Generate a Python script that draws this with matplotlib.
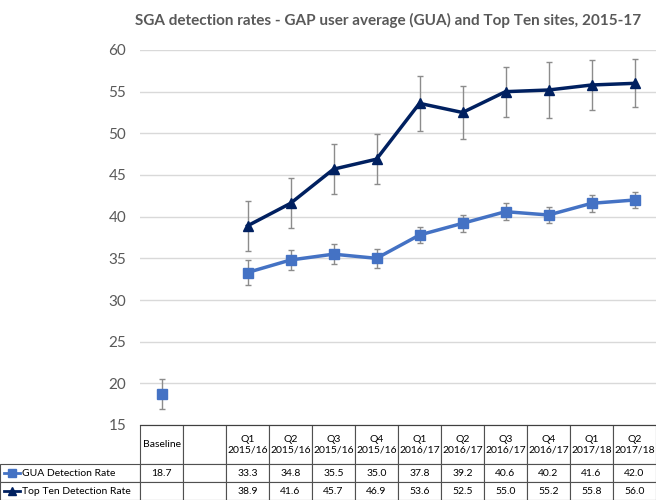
import numpy as np
import matplotlib
matplotlib.use('Agg')
import matplotlib.pyplot as plt
from matplotlib.lines import Line2D

plt.rcParams['font.family'] = ['Lato', 'DejaVu Sans']

# 数据
categories = ['Baseline', '', 'Q1\n2015/16', 'Q2\n2015/16', 'Q3\n2015/16', 'Q4\n2015/16',
              'Q1\n2016/17', 'Q2\n2016/17', 'Q3\n2016/17', 'Q4\n2016/17',
              'Q1\n2017/18', 'Q2\n2017/18']
gua = [18.7, np.nan, 33.3, 34.8, 35.5, 35.0, 37.8, 39.2, 40.6, 40.2, 41.6, 42.0]
gua_err = [1.8, np.nan, 1.5, 1.2, 1.2, 1.1, 1.0, 1.0, 1.0, 1.0, 1.0, 1.0]
top_ten = [np.nan, np.nan, 38.9, 41.6, 45.7, 46.9, 53.6, 52.5, 55.0, 55.2, 55.8, 56.0]
top_err = [np.nan, np.nan, 3.0, 3.0, 3.0, 3.0, 3.3, 3.2, 3.0, 3.4, 3.0, 2.9]
series_names = ['GUA Detection Rate', 'Top Ten Detection Rate']
title = 'SGA detection rates - GAP user average (GUA) and Top Ten sites, 2015-17'

GUA_COLOR = '#4472C4'
TOP_COLOR = '#002060'
TEXT_COLOR = '#595959'

W, H = 656, 500
fig = plt.figure(figsize=(W / 100, H / 100), dpi=100)
ax = fig.add_axes([140 / W, 75 / H, 516 / W, 375 / H])

x = np.arange(len(categories))

# 误差线
ax.errorbar(x, gua, yerr=gua_err, fmt='none', ecolor='#8c8c8c', elinewidth=1,
            capsize=2, capthick=1, zorder=2)
ax.errorbar(x, top_ten, yerr=top_err, fmt='none', ecolor='#8c8c8c', elinewidth=1,
            capsize=2, capthick=1, zorder=2)

# 折线
ax.plot(x, gua, color=GUA_COLOR, lw=2.5, marker='s', ms=7, zorder=3)
ax.plot(x, top_ten, color=TOP_COLOR, lw=2.5, marker='^', ms=7, zorder=3)

ax.set_xlim(-0.5, len(categories) - 0.5)
ax.set_ylim(15, 60)
ax.set_yticks(range(15, 61, 5))
ax.tick_params(axis='y', length=0, pad=10, labelsize=11, labelcolor=TEXT_COLOR)
ax.set_xticks([])
ax.grid(axis='y', color='#d9d9d9', lw=1)
ax.set_axisbelow(True)
for s in ['top', 'right', 'left']:
    ax.spines[s].set_visible(False)
ax.spines['bottom'].set_color('#404040')

# 数据表（第一列为系列名称）
def fmt(v):
    return '' if np.isnan(v) else f'{v:.1f}'

cell_text = [[name] + [fmt(v) for v in vals]
             for name, vals in zip(series_names, [gua, top_ten])]
table = ax.table(cellText=cell_text, colLabels=[''] + categories,
                 cellLoc='center',
                 bbox=[-140 / 516, -75 / 375, 1 + 140 / 516, 75 / 375])
table.auto_set_font_size(False)
table.set_fontsize(7.5)
for (r, c), cell in table.get_celld().items():
    cell.set_edgecolor('#505050')
    cell.set_linewidth(0.8)
    cell.set_width(140 if c == 0 else 43)
    cell.set_height(39 if r == 0 else 18)
    if c == 0:
        if r == 0:
            cell.visible_edges = ''
        else:
            cell.get_text().set_ha('left')
            cell._loc = 'left'
            cell.PAD = 0.16

# 行标签中的图例标记
for i, (color, mk) in enumerate([(GUA_COLOR, 's'), (TOP_COLOR, '^')]):
    yc = 1 - (464 + 9 + i * 18) / H
    fig.add_artist(Line2D([4 / W, 20 / W], [yc, yc], transform=fig.transFigure,
                          color=color, lw=2))
    fig.add_artist(Line2D([12 / W], [yc], transform=fig.transFigure,
                          color=color, marker=mk, ms=6, lw=0))

fig.text(388 / W, 1 - 20 / H, title, ha='center', va='center', fontsize=11,
         color=TEXT_COLOR, fontweight='bold')

fig.savefig('out.png', dpi=100)
